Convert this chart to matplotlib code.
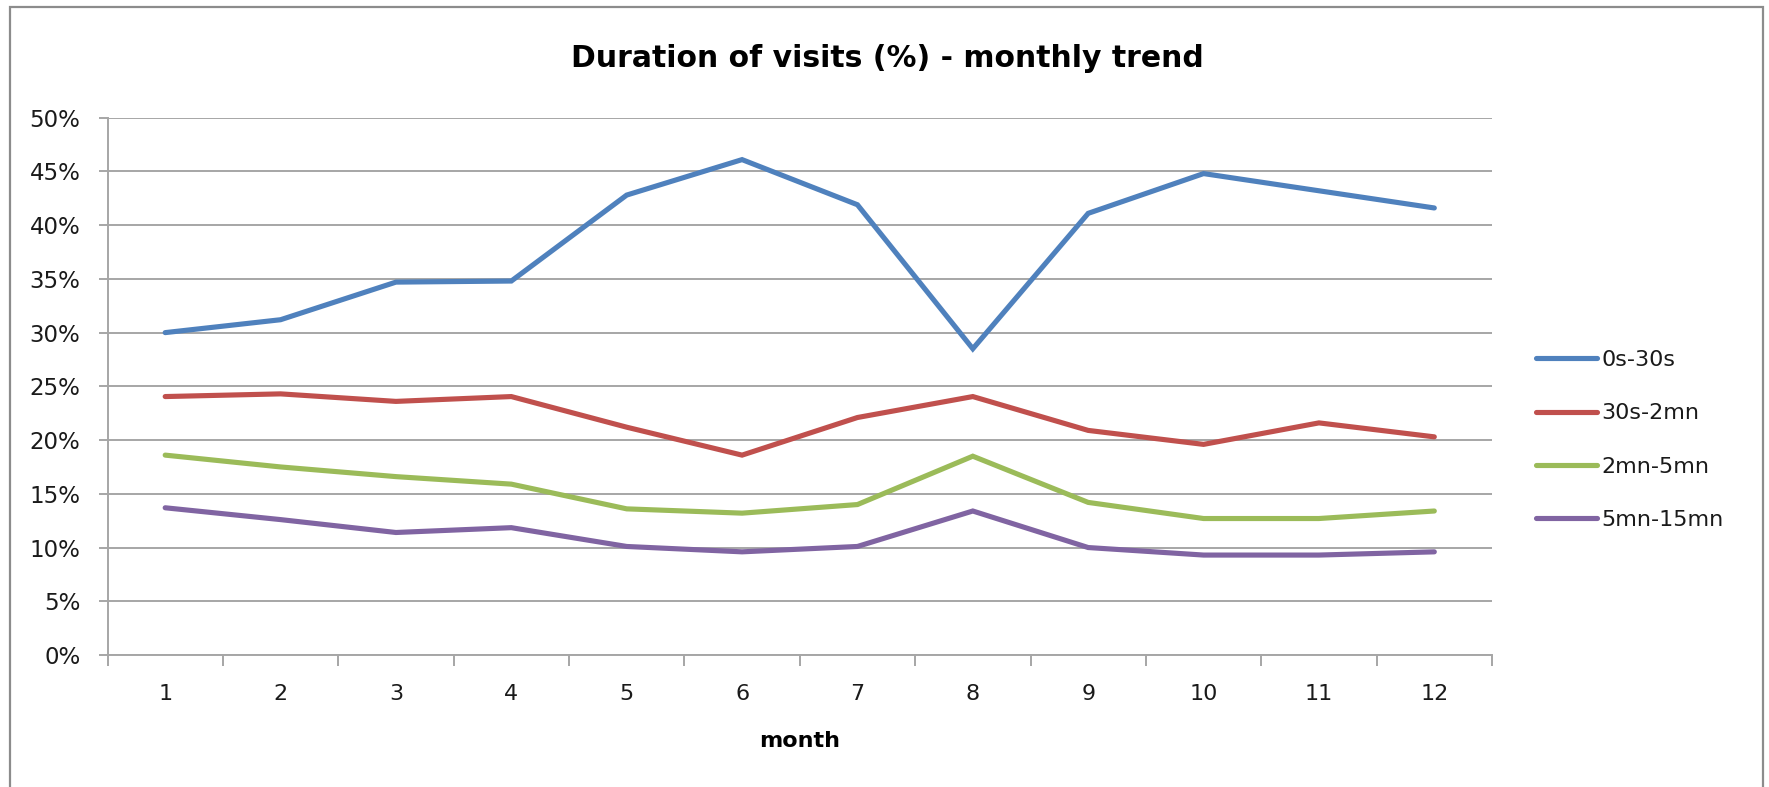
import numpy as np
import matplotlib
matplotlib.use("Agg")
from matplotlib import pyplot as plt
from matplotlib.patches import Rectangle

plt.rcParams['font.family'] = ['DejaVu Sans']

# data (percent)
months = [1, 2, 3, 4, 5, 6, 7, 8, 9, 10, 11, 12]
s_0s_30s = [30.0, 31.2, 34.7, 34.8, 42.8, 46.1, 41.9, 28.5, 41.1, 44.8, 43.2, 41.6]
s_30s_2mn = [24.05, 24.3, 23.6, 24.05, 21.2, 18.6, 22.1, 24.05, 20.9, 19.6, 21.6, 20.3]
s_2mn_5mn = [18.6, 17.5, 16.6, 15.9, 13.6, 13.2, 14.0, 18.5, 14.2, 12.7, 12.7, 13.4]
s_5mn_15mn = [13.7, 12.6, 11.4, 11.85, 10.1, 9.6, 10.1, 13.4, 10.0, 9.3, 9.3, 9.6]
names = ["0s-30s", "30s-2mn", "2mn-5mn", "5mn-15mn"]
colors = ["#4F81BD", "#C0504D", "#9BBB59", "#8064A2"]
yticks = [0, 5, 10, 15, 20, 25, 30, 35, 40, 45, 50]

W, H = 1769, 787
fig = plt.figure(figsize=(W / 100, H / 100), dpi=100)
# axes box in pixels
left, right, top, bottom = 107.5, 1492, 117.7, 655
ax = fig.add_axes([left / W, 1 - bottom / H, (right - left) / W, (bottom - top) / H])

series = [s_0s_30s, s_30s_2mn, s_2mn_5mn, s_5mn_15mn]
lines = []
for vals, nm, c in zip(series, names, colors):
    ln, = ax.plot(months, vals, color=c, lw=3.7, label=nm, solid_joinstyle='miter',
                  solid_capstyle='round', zorder=3)
    lines.append(ln)

ax.set_xlim(0.5, 12.5)
ax.set_ylim(0, 50)
ax.set_yticks(yticks)
ax.set_yticklabels([str(v) + "%" for v in yticks])
ax.yaxis.grid(True, color="#A6A6A6", lw=1.4)
ax.set_axisbelow(True)

# ticks between categories, labels on categories
ax.set_xticks(np.arange(0.5, 13, 1))
ax.set_xticklabels([])
ax.set_xticks(months, minor=True)
ax.set_xticklabels([str(m) for m in months], minor=True)
ax.tick_params(axis='x', which='major', length=8, color="#A6A6A6", width=1.4, direction='out')
ax.tick_params(axis='x', which='minor', length=0, pad=21, labelsize=16, labelcolor="#1a1a1a")
ax.tick_params(axis='y', length=6.5, color="#A6A6A6", width=1.4, labelsize=16.5, pad=13,
               labelcolor="#1a1a1a")

for s in ['top', 'right']:
    ax.spines[s].set_visible(False)
for s in ['left', 'bottom']:
    ax.spines[s].set_color("#A6A6A6")
    ax.spines[s].set_linewidth(1.4)

ax.set_xlabel("month", fontsize=16, fontweight='bold', labelpad=19)

fig.text(887 / W, 1 - 67 / H, "Duration of visits (%) - monthly trend",
         ha='center', va='baseline', fontsize=21.5, fontweight='bold')

leg = fig.legend(handles=lines, loc='upper left', bbox_to_anchor=(1536 / W, 1 - 350 / H),
                 frameon=False, fontsize=16, handlelength=2.75, handletextpad=0.2,
                 labelspacing=1.5, borderaxespad=0, borderpad=0)
for t in leg.get_texts():
    t.set_color("#1a1a1a")

# outer chart border
fig.patches.append(Rectangle((9.5 / W, -0.1), 1753 / W, 1.1 - 7 / H, transform=fig.transFigure,
                             fill=False, edgecolor="#8C8C8C", lw=1.6))

fig.savefig("out.png", dpi=100, facecolor="white")
